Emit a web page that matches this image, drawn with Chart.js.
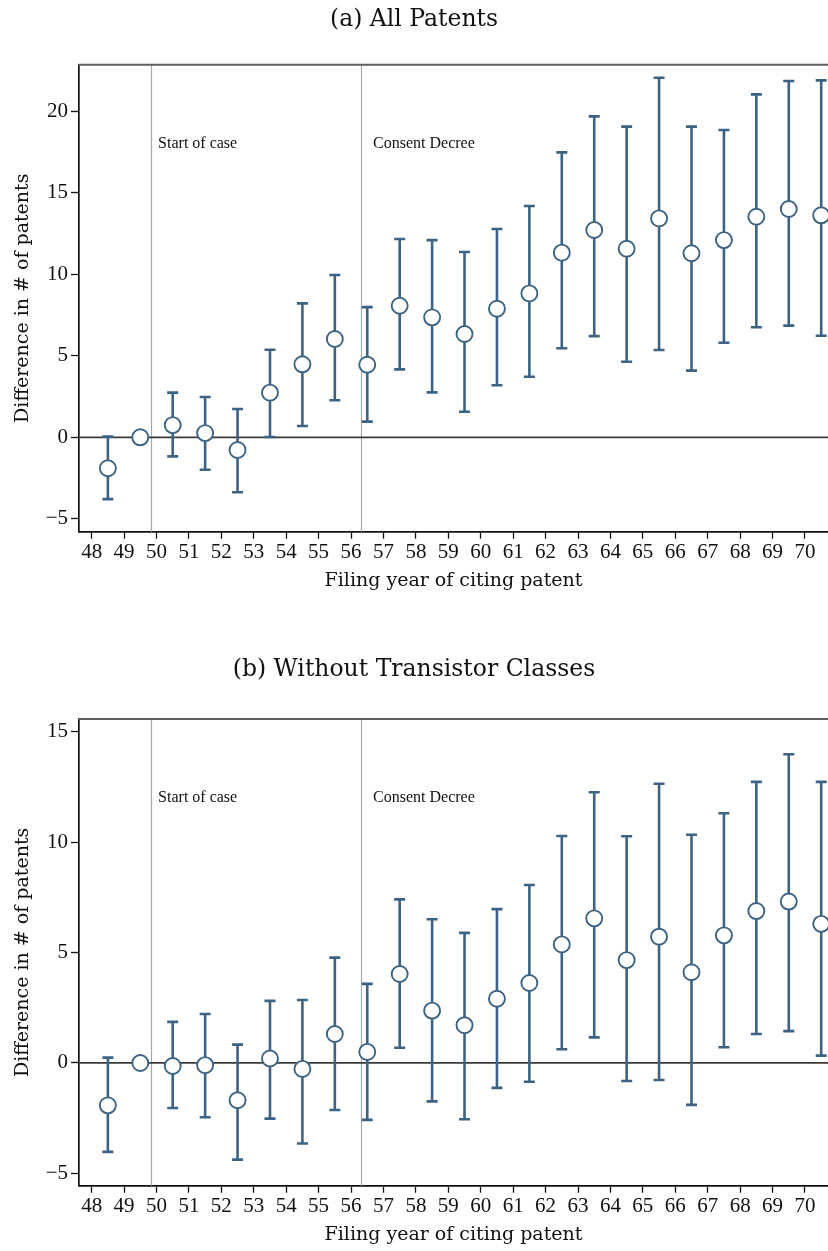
<!DOCTYPE html>
<html><head><meta charset="utf-8">
<script src="https://cdn.jsdelivr.net/npm/chart.js@4.4.1/dist/chart.umd.min.js"></script>
<style>
html,body{margin:0;padding:0;background:#fff;}
#wrap{position:relative;width:828px;height:1251px;overflow:hidden;}
canvas{position:absolute;left:0;}
</style></head><body>
<div id="wrap">
<canvas id="cA" width="828" height="626" style="top:0"></canvas>
<canvas id="cB" width="828" height="625" style="top:626px"></canvas>
</div>
<script>
// ---- data ----
const filingYear = [48.5,49.5,50.5,51.5,52.5,53.5,54.5,55.5,56.5,57.5,58.5,59.5,60.5,61.5,62.5,63.5,64.5,65.5,66.5,67.5,68.5,69.5,70.5];
const xTickLabels = [48,49,50,51,52,53,54,55,56,57,58,59,60,61,62,63,64,65,66,67,68,69,70];

const estA = [-1.90,0,0.75,0.26,-0.78,2.74,4.48,6.03,4.45,8.07,7.36,6.34,7.89,8.83,11.33,12.72,11.57,13.43,11.29,12.10,13.53,14.01,13.62];
const loA  = [-3.79,null,-1.17,-1.99,-3.37,0.02,0.69,2.27,0.96,4.17,2.76,1.57,3.19,3.72,5.46,6.21,4.64,5.36,4.09,5.80,6.75,6.85,6.23];
const hiA  = [0.04,null,2.74,2.47,1.74,5.37,8.22,9.96,7.99,12.17,12.10,11.37,12.78,14.19,17.48,19.69,19.06,22.06,19.06,18.85,21.04,21.86,21.90];
const yTicksA = [-5,0,5,10,15,20];

const estB = [-1.92,0,-0.14,-0.10,-1.69,0.20,-0.27,1.31,0.50,4.03,2.37,1.71,2.91,3.62,5.37,6.55,4.66,5.72,4.11,5.78,6.88,7.31,6.30];
const loB  = [-4.03,null,-2.04,-2.46,-4.38,-2.52,-3.65,-2.13,-2.58,0.69,-1.74,-2.55,-1.13,-0.85,0.62,1.16,-0.82,-0.77,-1.90,0.71,1.31,1.44,0.33];
const hiB  = [0.24,null,1.86,2.22,0.83,2.81,2.85,4.77,3.58,7.41,6.51,5.89,6.97,8.06,10.28,12.26,10.27,12.65,10.34,11.31,12.73,13.98,12.73];
const yTicksB = [-5,0,5,10,15];

const eventYears = [49.82, 56.32];
const eventLabels = ['Start of case', 'Consent Decree'];
const eventLabelX = [50.05, 56.68];
const eventLabelYA = 18;
const eventLabelYB = 12;

// ---- styling ----
const MARK = '#3d6384';
const TICKFONT = {family:'"Liberation Serif", serif', size:21};
const AXTITLEFONT = {family:'"DejaVu Serif", serif', size:19};
const TITLEFONT = {family:'"DejaVu Serif", serif', size:23.5, weight:'normal'};

const decorPlugin = {
  id: 'decor',
  beforeDatasetsDraw(chart, args, o) {
    const {ctx, chartArea: a, scales: {x, y}} = chart;
    ctx.save();
    ctx.strokeStyle = '#a9a9a9'; ctx.lineWidth = 1.2;
    o.events.forEach(v => {
      const px = Math.round(x.getPixelForValue(v)) + 0.5;
      ctx.beginPath(); ctx.moveTo(px, a.top); ctx.lineTo(px, a.bottom); ctx.stroke();
    });
    const py0 = y.getPixelForValue(0);
    ctx.strokeStyle = '#3a3a3a'; ctx.lineWidth = 1.7;
    ctx.beginPath(); ctx.moveTo(a.left, py0); ctx.lineTo(a.right, py0); ctx.stroke();
    ctx.font = '16px "Liberation Serif", serif';
    ctx.fillStyle = '#111'; ctx.textAlign = 'left'; ctx.textBaseline = 'middle';
    o.labels.forEach((t, i) => ctx.fillText(t, x.getPixelForValue(o.labelX[i]), y.getPixelForValue(o.labelY)));
    ctx.strokeStyle = MARK; ctx.lineWidth = 2.6; ctx.lineCap = 'butt';
    o.lo.forEach((lo, i) => {
      const hi = o.hi[i];
      if (lo == null || hi == null) return;
      const px = x.getPixelForValue(o.xs[i]);
      const p1 = y.getPixelForValue(lo), p2 = y.getPixelForValue(hi);
      ctx.beginPath(); ctx.moveTo(px, p1); ctx.lineTo(px, p2); ctx.stroke();
      ctx.beginPath(); ctx.moveTo(px - 5.5, p1); ctx.lineTo(px + 5.5, p1);
      ctx.moveTo(px - 5.5, p2); ctx.lineTo(px + 5.5, p2); ctx.stroke();
    });
    ctx.restore();
  },
  afterDraw(chart) {
    const {ctx, chartArea: a} = chart;
    ctx.save();
    ctx.strokeStyle = '#5e5e5e'; ctx.lineWidth = 2;
    ctx.beginPath(); ctx.moveTo(a.left - 0.8, a.top); ctx.lineTo(a.right, a.top); ctx.stroke();
    ctx.restore();
  }
};

function makeChart(id, title, titlePad, est, lo, hi, yTicks, ymin, ymax, labelY, padBottom) {
  return new Chart(document.getElementById(id), {
    type: 'scatter',
    data: {
      datasets: [{
        data: filingYear.map((v, i) => ({x: v, y: est[i]})),
        pointRadius: 8,
        pointBorderWidth: 1.9,
        pointBorderColor: MARK,
        pointBackgroundColor: '#ffffff',
        showLine: false
      }]
    },
    options: {
      responsive: false,
      animation: false,
      devicePixelRatio: 1,
      events: [],
      layout: {autoPadding: false, padding: {top: 0, left: 0, right: 0, bottom: padBottom}},
      plugins: {
        legend: {display: false},
        tooltip: {enabled: false},
        title: {display: true, text: title, font: TITLEFONT, color: '#111', padding: titlePad},
        decor: {events: eventYears, labels: eventLabels, labelX: eventLabelX, labelY: labelY, xs: filingYear, lo: lo, hi: hi}
      },
      scales: {
        x: {
          type: 'linear', min: 47.61, max: 70.71,
          afterBuildTicks: s => { s.ticks = xTickLabels.map(v => ({value: v})); },
          afterFit: s => { s.height = 61; },
          ticks: {font: TICKFONT, color: '#111', padding: 1, autoSkip: false, maxRotation: 0, callback: v => String(v)},
          grid: {drawOnChartArea: false, drawTicks: true, tickLength: 7, color: '#111', tickWidth: 1.3},
          border: {display: true, color: '#111', width: 1.7},
          title: {display: true, text: 'Filing year of citing patent', font: AXTITLEFONT, color: '#111', padding: {top: 0, bottom: 0}}
        },
        y: {
          type: 'linear', min: ymin, max: ymax,
          afterBuildTicks: s => { s.ticks = yTicks.map(v => ({value: v})); },
          afterFit: s => { s.width = 79; },
          ticks: {font: TICKFONT, color: '#111', padding: 3, callback: v => v < 0 ? '\u2212' + Math.abs(v) : String(v)},
          grid: {drawOnChartArea: false, drawTicks: true, tickLength: 8, color: '#111', tickWidth: 1.3},
          border: {display: true, color: '#111', width: 1.7},
          title: {display: true, text: 'Difference in # of patents', font: AXTITLEFONT, color: '#111', padding: {top: 11.6, bottom: 0}}
        }
      }
    },
    plugins: [decorPlugin]
  });
}

makeChart('cA', '(a) All Patents', {top: 5.5, bottom: 31.0}, estA, loA, hiA, yTicksA, -5.79, 22.86, eventLabelYA, 33.3);
makeChart('cB', '(b) Without Transistor Classes', {top: 29.5, bottom: 35.3}, estB, loB, hiB, yTicksB, -5.56, 15.58, eventLabelYB, 4.3);
</script>
</body></html>
